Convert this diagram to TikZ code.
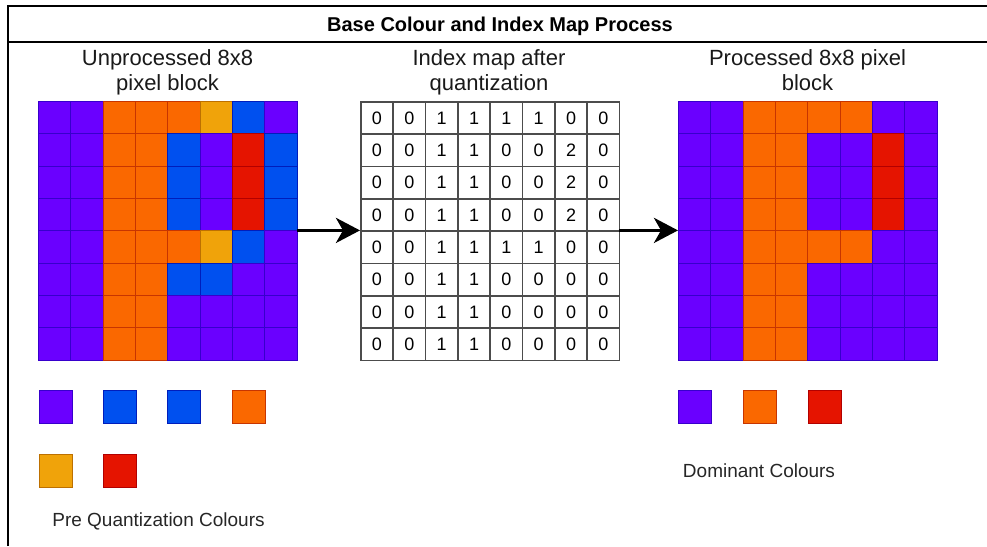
\documentclass[tikz,border=0pt]{standalone}
\usepackage{fontspec}
\setmainfont{Liberation Sans}
\usetikzlibrary{arrows.meta}
\definecolor{vio}{HTML}{6A00FF}\definecolor{vioS}{HTML}{3700CC}
\definecolor{ora}{HTML}{FA6800}\definecolor{oraS}{HTML}{C73500}
\definecolor{cob}{HTML}{0050EF}\definecolor{cobS}{HTML}{001DBC}
\definecolor{amb}{HTML}{F0A30A}\definecolor{ambS}{HTML}{BD7000}
\definecolor{rdd}{HTML}{E51400}\definecolor{rddS}{HTML}{B20000}
\tikzset{
  pix/.style={line width=1pt, minimum size=32.35pt, inner sep=0pt, anchor=north west},
  cV/.style={pix, fill=vio, draw=vioS},
  cO/.style={pix, fill=ora, draw=oraS},
  cB/.style={pix, fill=cob, draw=cobS},
  cA/.style={pix, fill=amb, draw=ambS},
  cR/.style={pix, fill=rdd, draw=rddS},
  idx/.style={pix, fill=white, draw=black!70, line width=1.6pt, font=\fontsize{18}{21}\selectfont},
  swatch/.style={line width=1pt, minimum size=33pt, inner sep=0pt, anchor=north west},
  gridbox/.style={minimum width=258.8pt, minimum height=258.8pt, inner sep=0pt, outer sep=0pt, anchor=north west},
  lbl/.style={align=center, inner sep=0pt, font=\fontsize{22}{25.5}\selectfont, text=black!90},
  captxt/.style={anchor=base, inner sep=0pt, font=\fontsize{19}{22}\selectfont, text=black!85},
  arr/.style={line width=3.5pt, -{Stealth[length=24pt,width=25pt,inset=7pt]}},
}
\begin{document}
\begin{tikzpicture}[x=1pt,y=-1pt]
\useasboundingbox (0,0) rectangle (987,546);
% frame
\draw[line width=2pt] (7.5,546) -- (7.5,6) -- (987,6);
\draw[line width=2pt] (7.5,41.5) -- (987,41.5);
\node[anchor=base, inner sep=0pt, font=\bfseries\fontsize{20}{24}\selectfont] (title) at (500,31.3) {Base Colour and Index Map Process};
% labels
\node[lbl] (tl) at (167.5,72.9) {Unprocessed 8x8\strut\\pixel block\strut};
\node[lbl] (tm) at (489,72.9) {Index map after\strut\\quantization\strut};
\node[lbl] (tr) at (807.5,72.9) {Processed 8x8 pixel\strut\\block\strut};
% grid frames
\node[gridbox] (lgrid) at (38,101) {};
\node[gridbox] (igrid) at (360,101) {};
\node[gridbox] (rgrid) at (678,101) {};
% left grid
\foreach \row [count=\r from 0] in {
 {cV,cV,cO,cO,cO,cA,cB,cV},
 {cV,cV,cO,cO,cB,cV,cR,cB},
 {cV,cV,cO,cO,cB,cV,cR,cB},
 {cV,cV,cO,cO,cB,cV,cR,cB},
 {cV,cV,cO,cO,cO,cA,cB,cV},
 {cV,cV,cO,cO,cB,cB,cV,cV},
 {cV,cV,cO,cO,cV,cV,cV,cV},
 {cV,cV,cO,cO,cV,cV,cV,cV}}{
  \foreach \c [count=\k from 0] in \row {
    \node[\c] (L-\r-\k) at ({38+\k*32.35},{101+\r*32.35}) {};
  }
}
% right grid
\foreach \row [count=\r from 0] in {
 {cV,cV,cO,cO,cO,cO,cV,cV},
 {cV,cV,cO,cO,cV,cV,cR,cV},
 {cV,cV,cO,cO,cV,cV,cR,cV},
 {cV,cV,cO,cO,cV,cV,cR,cV},
 {cV,cV,cO,cO,cO,cO,cV,cV},
 {cV,cV,cO,cO,cV,cV,cV,cV},
 {cV,cV,cO,cO,cV,cV,cV,cV},
 {cV,cV,cO,cO,cV,cV,cV,cV}}{
  \foreach \c [count=\k from 0] in \row {
    \node[\c] (R-\r-\k) at ({678+\k*32.35},{101+\r*32.35}) {};
  }
}
% index grid
\foreach \row [count=\r from 0] in {
 {0,0,1,1,1,1,0,0},
 {0,0,1,1,0,0,2,0},
 {0,0,1,1,0,0,2,0},
 {0,0,1,1,0,0,2,0},
 {0,0,1,1,1,1,0,0},
 {0,0,1,1,0,0,0,0},
 {0,0,1,1,0,0,0,0},
 {0,0,1,1,0,0,0,0}}{
  \foreach \c [count=\k from 0] in \row {
    \node[idx] (I-\r-\k) at ({360+\k*32.35},{101+\r*32.35}) {\c};
  }
}
% arrows
\draw[arr] (lgrid.east) -- (igrid.west);
\draw[arr] (igrid.east) -- (rgrid.west);
% swatches left
\node[swatch, fill=vio, draw=vioS] (s1) at (39,390) {};
\node[swatch, fill=cob, draw=cobS] (s2) at (103,390) {};
\node[swatch, fill=cob, draw=cobS] (s3) at (167,390) {};
\node[swatch, fill=ora, draw=oraS] (s4) at (232,390) {};
\node[swatch, fill=amb, draw=ambS] (s5) at (39,454) {};
\node[swatch, fill=rdd, draw=rddS] (s6) at (103,454) {};
\node[captxt] (pq) at (158.5,526.7) {Pre Quantization Colours};
% swatches right
\node[swatch, fill=vio, draw=vioS] (d1) at (678,390) {};
\node[swatch, fill=ora, draw=oraS] (d2) at (743,390) {};
\node[swatch, fill=rdd, draw=rddS] (d3) at (808,390) {};
\node[captxt] (dc) at (759,477.7) {Dominant Colours};
\end{tikzpicture}
\end{document}
